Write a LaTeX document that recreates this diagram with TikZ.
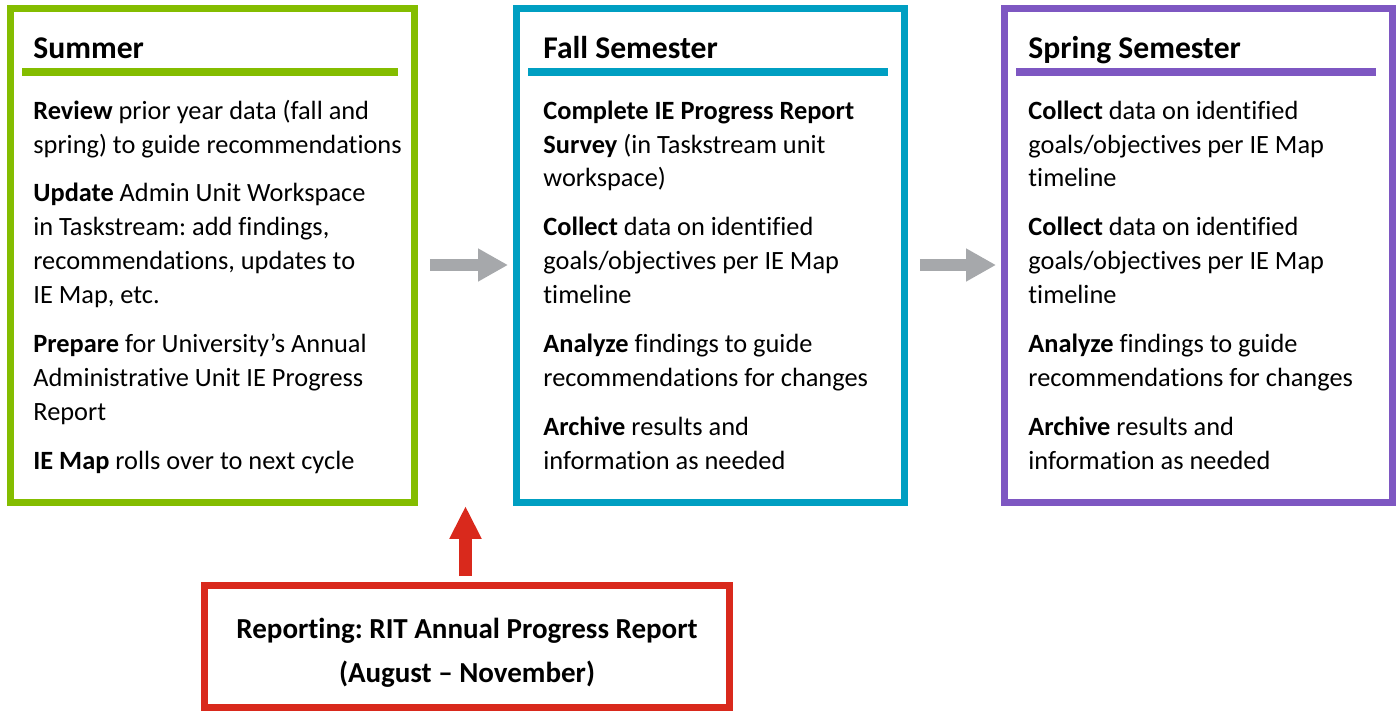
\documentclass[tikz,border=0pt]{standalone}
\usepackage{fontspec}
\setmainfont{Carlito}[Ligatures={TeX,NoCommon}]
\frenchspacing
\usetikzlibrary{positioning}
\usetikzlibrary{calc}
\usetikzlibrary{arrows.meta}
\definecolor{sumgreen}{RGB}{132,189,0}
\definecolor{fallblue}{RGB}{0,159,194}
\definecolor{springpurple}{RGB}{126,87,194}
\definecolor{reportred}{RGB}{217,41,28}
\definecolor{arrowgray}{RGB}{166,168,171}

\begin{document}
\begin{tikzpicture}[x=0.02cm, y=-0.02cm,
    season/.style={draw=#1, line width=0.14cm, minimum height=9.88cm, inner sep=0pt},
    heading/.style={anchor=base west, inner sep=0pt, font=\fontsize{18}{22}\selectfont\bfseries},
    bar/.style={draw=#1, line width=0.16cm},
    items/.style={anchor=north west, inner sep=0pt, align=left, font=\fontsize{15}{19.3}\selectfont},
    flow/.style={draw=arrowgray, line width=0.24cm, -{Triangle[length=0.6cm,width=0.62cm]}}]
        \useasboundingbox (0,0) rectangle (1398,711);
        % boxes %
        \node[season=sumgreen, minimum width=8.08cm] (summer) at (212.5,255.5) {};
        \node[season=fallblue, minimum width=7.76cm] (fall) at (710.5,255.5) {};
        \node[season=springpurple, minimum width=7.76cm] (spring) at (1198.5,255.5) {};
        \node[draw=reportred, line width=0.14cm, minimum width=10.5cm, minimum height=2.44cm,
              align=center, font=\fontsize{16.5}{25}\selectfont\bfseries] (report) at (467,646.5)
              {\rule{0pt}{19pt}Reporting: RIT Annual Progress Report\\(August -- November)};
        % headings %
        \node[heading] (sumhead) at ($(summer.north west)+(26,53)$) {Summer};
        \node[heading] (fallhead) at ($(fall.north west)+(30,53)$) {Fall Semester};
        \node[heading] (springhead) at ($(spring.north west)+(27,53)$) {Spring Semester};
        \draw[bar=sumgreen] ($(summer.north west)+(15,67)$) -- ($(summer.north east)+(-20,67)$);
        \draw[bar=fallblue] ($(fall.north west)+(15,67)$) -- ($(fall.north east)+(-20,67)$);
        \draw[bar=springpurple] ($(spring.north west)+(15,67)$) -- ($(spring.north east)+(-20,67)$);
        % items %
        \node[items] (sumitems) at ($(summer.north west)+(26,90)$) {\strut\textbf{Review} prior year data (fall and\\
            spring) to guide recommendations\\[8.5pt]
            \textbf{Update} Admin Unit Workspace\\
            in Taskstream: add findings,\\
            recommendations, updates to\\
            IE Map, etc.\\[8.5pt]
            \textbf{Prepare} for University’s Annual\\
            Administrative Unit IE Progress\\
            Report\\[8.5pt]
            \textbf{IE Map} rolls over to next cycle};
        \node[items] (fallitems) at ($(fall.north west)+(30,90)$) {\strut\textbf{Complete IE Progress Report}\\
            \textbf{Survey} (in Taskstream unit\\
            workspace)\\[8.5pt]
            \textbf{Collect} data on identified\\
            goals/objectives per IE Map\\
            timeline\\[8.5pt]
            \textbf{Analyze} findings to guide\\
            recommendations for changes\\[8.5pt]
            \textbf{Archive} results and\\
            information as needed};
        \node[items] (springitems) at ($(spring.north west)+(27,90)$) {\strut\textbf{Collect} data on identified\\
            goals/objectives per IE Map\\
            timeline\\[8.5pt]
            \textbf{Collect} data on identified\\
            goals/objectives per IE Map\\
            timeline\\[8.5pt]
            \textbf{Analyze} findings to guide\\
            recommendations for changes\\[8.5pt]
            \textbf{Archive} results and\\
            information as needed};
        % arrows %
        \coordinate (gap) at ($(summer.south east)!0.5!(fall.south west)$);
        \draw[flow, shorten <=0.24cm, shorten >=0.1cm] ([yshift=-0.19cm]summer.east) -- ([yshift=-0.19cm]fall.west);
        \draw[flow, shorten <=0.24cm, shorten >=0.1cm] ([yshift=-0.19cm]fall.east) -- ([yshift=-0.19cm]spring.west);
        \draw[flow, draw=reportred, line width=0.25cm, -{Triangle[length=0.66cm,width=0.6cm]}, shorten <=0.12cm] (report.north -| gap) -- (gap);
\end{tikzpicture}
\end{document}
